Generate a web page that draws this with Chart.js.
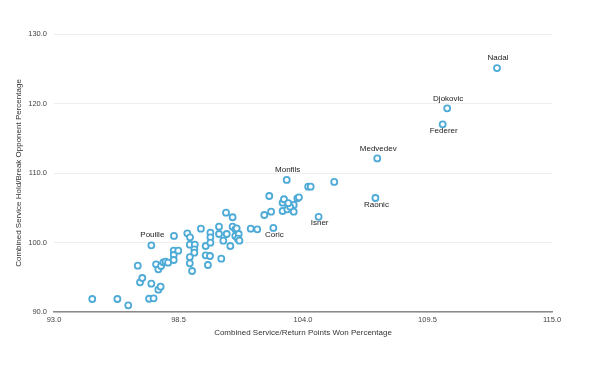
<!DOCTYPE html>
<html>
<head>
<meta charset="utf-8">
<script src="https://cdn.jsdelivr.net/npm/chart.js@4/dist/chart.umd.min.js"></script>
<style>
  html, body { margin: 0; padding: 0; background: #fff; }
  #wrap { width: 600px; height: 366px; }
</style>
</head>
<body>
<div id="wrap"><canvas id="grafico"></canvas></div>
<script>
// jogadores com nome no grafico
const nomes   = ["Nadal", "Djokovic", "Federer", "Medvedev", "Raonic", "Isner", "Monfils", "Coric", "Pouille"];
const nomesX  = [112.57, 110.37, 110.17, 107.28, 107.20, 104.69, 103.28, 102.69, 97.30];
const nomesY  = [125.1, 119.3, 117.0, 112.1, 106.4, 103.7, 109.0, 102.1, 99.6];
const abaixo  = ["Federer", "Raonic", "Isner", "Coric"];

// resto dos jogadores
const outrosX = [94.69, 95.80, 96.28, 96.70, 96.80, 96.90, 97.30, 97.20, 97.40, 97.51,
                 97.61, 97.61, 97.71, 97.73, 97.83, 97.93, 98.04, 98.30, 98.29, 98.29,
                 98.29, 98.49, 98.89, 99.01, 99.00, 99.22, 99.20, 99.20, 99.00, 99.00,
                 99.10, 99.49, 99.70, 99.70, 99.80, 99.91, 99.91, 99.91, 99.89, 100.29,
                 100.29, 100.39, 100.48, 100.60, 100.63, 100.79, 100.89, 100.89, 101.01, 101.01,
                 101.16, 101.12, 101.19, 101.69, 101.98, 102.29, 102.51, 102.59, 103.10, 103.16,
                 103.10, 103.31, 103.59, 103.59, 103.75, 103.82, 103.43, 103.35, 104.23, 104.34,
                 105.38, 101.07];
const outrosY = [91.87, 91.87, 90.96, 96.66, 94.27, 94.89, 94.07, 91.91, 91.97, 96.86,
                 96.14, 93.21, 93.64, 96.62, 97.15, 97.24, 97.09, 100.94, 98.82, 98.20,
                 97.48, 98.82, 101.32, 100.75, 99.68, 99.68, 99.02, 98.53, 97.91, 97.01,
                 95.90, 101.99, 99.50, 98.16, 96.76, 101.41, 100.75, 99.97, 98.06, 102.27,
                 101.22, 97.67, 100.26, 104.29, 101.22, 99.50, 103.63, 102.27, 101.90, 100.94,
                 101.22, 100.55, 100.26, 101.99, 101.90, 103.96, 106.69, 104.43, 105.73, 106.22,
                 104.53, 104.78, 104.43, 105.40, 106.36, 106.50, 105.15, 105.66, 108.03, 108.03,
                 108.71, 102.04];

const ticksX = [93.0, 98.5, 104.0, 109.5, 115.0];
const ticksY = [90.0, 100.0, 110.0, 120.0, 130.0];

const pontos = [];
nomes.forEach((n, i) => pontos.push({ x: nomesX[i], y: nomesY[i], nome: n }));
outrosX.forEach((x, i) => pontos.push({ x: x, y: outrosY[i], nome: "" }));

const fonte = "'Liberation Sans', Arial, Helvetica, sans-serif";

// escreve o nome em cima ou embaixo da bolinha
const rotulos = {
    id: "rotulos",
    afterDatasetsDraw(chart) {
        const ctx = chart.ctx;
        const meta = chart.getDatasetMeta(0);
        ctx.save();
        ctx.font = "8px " + fonte;
        ctx.fillStyle = "#222";
        ctx.textAlign = "center";
        ctx.textBaseline = "middle";
        pontos.forEach((p, i) => {
            if (!p.nome) return;
            const el = meta.data[i];
            const dy = abaixo.includes(p.nome) ? 6.5 : -10;
            ctx.fillText(p.nome, el.x + 1, el.y + dy);
        });
        ctx.restore();
    }
};

new Chart(document.getElementById("grafico"), {
    type: "scatter",
    data: {
        datasets: [{
            data: pontos,
            pointRadius: 3,
            pointHoverRadius: 3,
            borderWidth: 1.8,
            borderColor: "#4eaad6",
            backgroundColor: "#fff"
        }]
    },
    options: {
        responsive: true,
        maintainAspectRatio: false,
        animation: false,
        layout: { padding: { left: 0, right: 48, top: 34, bottom: 0 } },
        plugins: {
            legend: { display: false },
            tooltip: { enabled: false }
        },
        scales: {
            x: {
                type: "linear",
                min: ticksX[0],
                max: ticksX[ticksX.length - 1],
                afterBuildTicks: s => { s.ticks = ticksX.map(v => ({ value: v })); },
                afterFit: s => { s.height = 54; },
                grid: { display: false, drawTicks: false },
                border: { display: true, color: "#8a8a8a", width: 1.5 },
                ticks: {
                    padding: 3,
                    color: "#444",
                    font: { family: fonte, size: 7.5 },
                    maxRotation: 0,
                    callback: v => Number(v).toFixed(1)
                },
                title: {
                    display: true,
                    text: "Combined Service/Return Points Won Percentage",
                    color: "#333",
                    font: { family: fonte, size: 8 },
                    padding: { top: 0, bottom: 28 }
                }
            },
            y: {
                type: "linear",
                min: ticksY[0],
                max: ticksY[ticksY.length - 1],
                afterBuildTicks: s => { s.ticks = ticksY.map(v => ({ value: v })); },
                afterFit: s => { s.width = 54; },
                grid: { color: "#eeeeee", drawTicks: false },
                border: { display: false },
                ticks: {
                    padding: 7,
                    color: "#444",
                    font: { family: fonte, size: 7.5 },
                    callback: v => Number(v).toFixed(1)
                },
                title: {
                    display: true,
                    text: "Combined Service Hold/Break Opponent Percentage",
                    color: "#333",
                    font: { family: fonte, size: 8 },
                    padding: { top: 14, bottom: 0 }
                }
            }
        }
    },
    plugins: [rotulos]
});
</script>
</body>
</html>
